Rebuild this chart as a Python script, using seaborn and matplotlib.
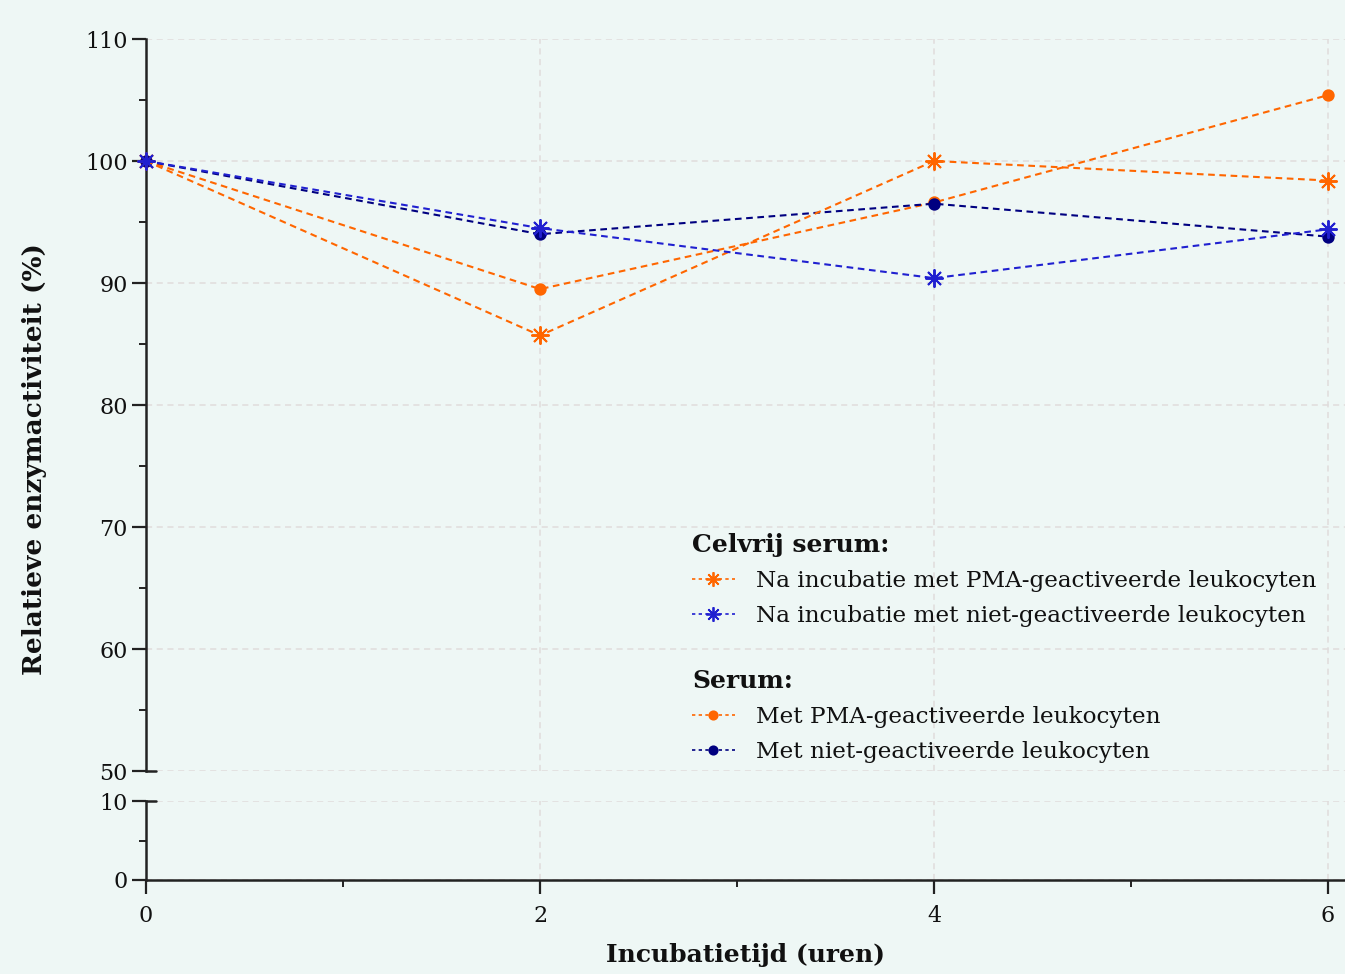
import matplotlib
matplotlib.use("Agg")
import matplotlib.pyplot as plt
import numpy as np
import pandas as pd
import seaborn as sns
from matplotlib.lines import Line2D
from matplotlib.ticker import MultipleLocator

# ---- data ----
hours = [0, 2, 4, 6]
celvrij_pma = [100, 85.7, 100.0, 98.4]
celvrij_niet = [100, 94.5, 90.4, 94.4]
serum_pma = [100, 89.5, 96.6, 105.4]
serum_niet = [100, 94.0, 96.5, 93.8]

label_celvrij_pma = "Na incubatie met PMA-geactiveerde leukocyten"
label_celvrij_niet = "Na incubatie met niet-geactiveerde leukocyten"
label_serum_pma = "Met PMA-geactiveerde leukocyten"
label_serum_niet = "Met niet-geactiveerde leukocyten"
title_celvrij = "Celvrij serum:"
title_serum = "Serum:"

x_ticks = [0, 2, 4, 6]
y_top_ticks = [50, 60, 70, 80, 90, 100, 110]
y_bottom_ticks = [0, 10]
x_label = "Incubatietijd (uren)"
y_label = "Relatieve enzymactiviteit (%)"

# ---- style ----
sns.set_theme(style="ticks")
plt.rcParams["font.family"] = ["DejaVu Serif"]
plt.rcParams["text.color"] = "#111111"
bg = "#EEF7F5"
c_orange = "#FF6600"
c_blue = "#2020D0"
c_navy = "#000080"
grid_c = "#E0DCDC"
spine_c = "#222222"

W, H = 1345, 974
fig = plt.figure(figsize=(W / 100, H / 100), dpi=100, facecolor=bg)


def rect(l, t, r, b):
    return [l / W, 1 - b / H, (r - l) / W, (b - t) / H]


ax = fig.add_axes(rect(146, 39, 1345, 771))
axb = fig.add_axes(rect(146, 801, 1345, 880))
for a in (ax, axb):
    a.set_facecolor(bg)
    a.set_xlim(0, 6.086)

asterisk = (8, 2, 0)
dash = (0, (3.2, 2.2))
series = [
    (serum_pma, c_orange, "o", 7.5, label_serum_pma),
    (serum_niet, c_navy, "o", 7.5, label_serum_niet),
    (celvrij_pma, c_orange, asterisk, 13, label_celvrij_pma),
    (celvrij_niet, c_blue, asterisk, 13, label_celvrij_niet),
]
df = pd.DataFrame({"hours": hours})
for vals, col, mk, ms, lab in series:
    df[lab] = vals
    sns.lineplot(data=df, x="hours", y=lab, ax=ax, color=col, marker=mk,
                 markersize=ms, markeredgewidth=1.4, markeredgecolor=col,
                 linestyle=dash, linewidth=1.5, clip_on=False, zorder=5)

# top axes
ax.set_ylim(50, 110)
ax.set_yticks(y_top_ticks)
ax.yaxis.set_minor_locator(MultipleLocator(5))
ax.set_xticks(x_ticks)
ax.tick_params(axis="x", bottom=False, labelbottom=False, which="both")
for s in ("top", "right", "bottom"):
    ax.spines[s].set_visible(False)
ax.spines["left"].set_color(spine_c)
ax.spines["left"].set_linewidth(1.8)

# bottom axes
axb.set_ylim(0, 10)
axb.set_yticks(y_bottom_ticks)
axb.yaxis.set_minor_locator(MultipleLocator(5))
axb.set_xticks(x_ticks)
axb.xaxis.set_minor_locator(MultipleLocator(1))
for s in ("top", "right"):
    axb.spines[s].set_visible(False)
for s in ("left", "bottom"):
    axb.spines[s].set_color(spine_c)
    axb.spines[s].set_linewidth(1.8)

for a in (ax, axb):
    a.tick_params(which="major", length=10, width=1.6, color=spine_c,
                  labelsize=16, labelcolor="#111111", pad=3)
    a.tick_params(which="minor", length=5, width=1.4, color=spine_c)
    a.grid(True, which="major", color=grid_c, linestyle=(0, (4, 3)),
           linewidth=1.1)
    a.set_axisbelow(True)
    a.set_xlabel("")
    a.set_ylabel("")
axb.tick_params(axis="x", which="major", pad=8)

# break marks (inward stubs at 50 and 10)
ax.plot([0, 0.008], [0, 0], transform=ax.transAxes, color=spine_c,
        linewidth=1.8, clip_on=False)
axb.plot([0, 0.008], [1, 1], transform=axb.transAxes, color=spine_c,
         linewidth=1.8, clip_on=False)

# axis labels
fig.text(746 / W, 1 - 955 / H, x_label, ha="center", va="center",
         fontsize=18, fontweight="bold", color="#111111")
fig.text(35 / W, 1 - 459 / H, y_label, ha="center", va="center",
         rotation=90, fontsize=19, fontweight="bold", color="#111111")

# legends
def handle(col, mk, ms):
    return Line2D([], [], color=col, marker=mk, markersize=ms * 0.8,
                  markeredgewidth=1.3, markeredgecolor=col,
                  linestyle=(0, (2, 2)), linewidth=1.2)


leg_kw = dict(frameon=False, fontsize=16.7, title_fontsize=18,
              handlelength=1.85, handletextpad=0.9, labelspacing=0.56,
              borderaxespad=0, borderpad=0, loc="upper left",
              labelcolor="#111111")
leg1 = ax.legend([handle(c_orange, asterisk, 13), handle(c_blue, asterisk, 13)],
                 [label_celvrij_pma, label_celvrij_niet], title=title_celvrij,
                 bbox_to_anchor=(692 / W, 1 - 533 / H),
                 bbox_transform=fig.transFigure, **leg_kw)
leg1._legend_box.align = "left"
leg1.get_title().set_fontweight("bold")
leg1.get_title().set_color("#111111")
ax.add_artist(leg1)
leg2 = ax.legend([handle(c_orange, "o", 7.5), handle(c_navy, "o", 7.5)],
                 [label_serum_pma, label_serum_niet], title=title_serum,
                 bbox_to_anchor=(692 / W, 1 - 669 / H),
                 bbox_transform=fig.transFigure, **leg_kw)
leg2._legend_box.align = "left"
leg2.get_title().set_fontweight("bold")
leg2.get_title().set_color("#111111")

fig.savefig("out.png", dpi=100, facecolor=bg)
